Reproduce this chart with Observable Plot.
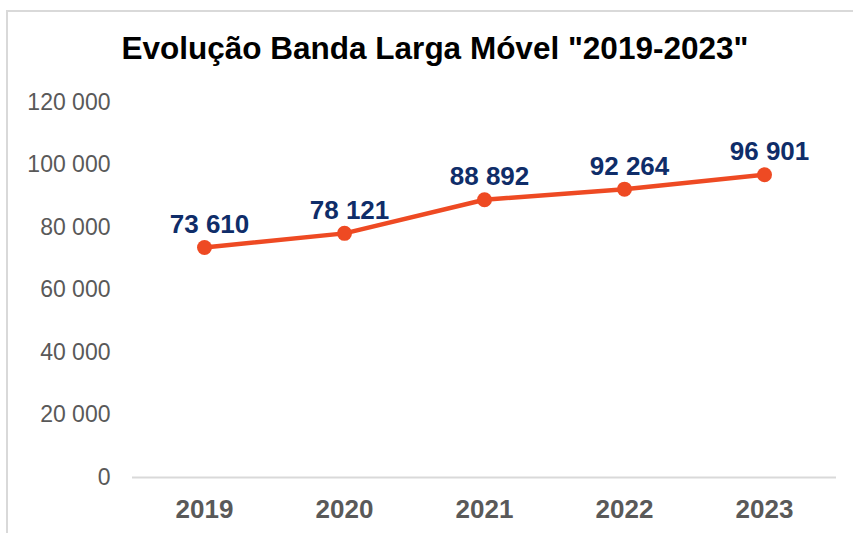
<!DOCTYPE html>
<html>
<head>
<meta charset="utf-8">
<script src="https://cdn.jsdelivr.net/npm/d3@7"></script>
<script src="https://cdn.jsdelivr.net/npm/@observablehq/plot@0.6"></script>
<style>
  html, body { margin: 0; padding: 0; background: #fff; overflow: hidden; }
  #wrap { position: relative; width: 853px; height: 533px; background: #fff; font-family: "Liberation Sans", Arial, sans-serif; }
  #frame { position: absolute; left: 6px; top: 10px; width: 900px; height: 600px; border-left: 2px solid #d9d9d9; border-top: 2px solid #d9d9d9; box-sizing: border-box; }
  #title { position: absolute; left: 0; top: 33px; width: 870px; text-align: center; font-size: 31.5px; line-height: 31.5px; font-weight: bold; color: #000; white-space: nowrap; }
  #chart { position: absolute; left: 0; top: 90px; }
</style>
</head>
<body>
<div id="wrap">
  <div id="frame"></div>
  <div id="title">Evolução Banda Larga Móvel "2019-2023"</div>
  <div id="chart"></div>
</div>
<script>
const years = ["2019", "2020", "2021", "2022", "2023"];
const values = [73610, 78121, 88892, 92264, 96901];
const yTicks = [0, 20000, 40000, 60000, 80000, 100000, 120000];

const data = years.map((y, i) => ({year: y, value: values[i]}));
const fmt = d => d3.format(",")(d).replace(/,/g, " ");

const chart = Plot.plot({
  width: 853,
  height: 443,
  marginTop: 12,
  marginBottom: 56,
  marginLeft: 132,
  marginRight: 17,
  style: {fontFamily: "'Liberation Sans', Arial, sans-serif", background: "transparent", overflow: "visible"},
  x: {type: "point", domain: years, padding: 0.5, label: null},
  y: {domain: [0, 120000], label: null},
  marks: [
    Plot.axisY({ticks: yTicks, tickSize: 0, tickPadding: 22, tickFormat: fmt, fontSize: 23, fill: "#595959", label: null}),
    Plot.axisX({tickSize: 0, tickPadding: 22, fontSize: 26, fontWeight: "bold", fill: "#595959", label: null}),
    Plot.ruleY([0], {stroke: "#d9d9d9", strokeWidth: 2}),
    Plot.line(data, {x: "year", y: "value", stroke: "#EE4A23", strokeWidth: 4.5}),
    Plot.dot(data, {x: "year", y: "value", r: 7.5, fill: "#EE4A23"}),
    Plot.text(data, {x: "year", y: "value", text: d => fmt(d.value), dy: -23, dx: 5, fontSize: 26, fontWeight: "bold", fill: "#0F2D69"})
  ]
});
document.getElementById("chart").appendChild(chart);
</script>
</body>
</html>
